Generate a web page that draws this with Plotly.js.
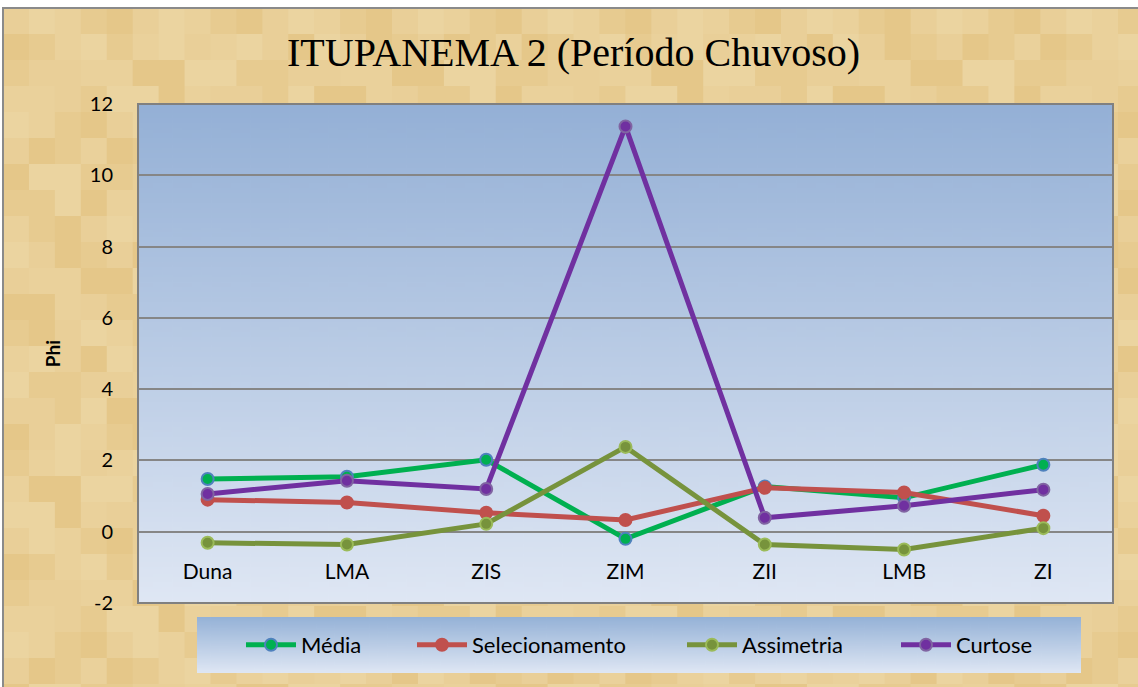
<!DOCTYPE html>
<html>
<head>
<meta charset="utf-8">
<script src="https://cdn.plot.ly/plotly-3.0.1.min.js"></script>
<style>html,body{margin:0;padding:0;background:#fff;}#chart{width:1138px;height:687px;}</style>
</head>
<body>
<div id="chart"></div>
<script>
const categories = ['Duna', 'LMA', 'ZIS', 'ZIM', 'ZII', 'LMB', 'ZI'];
const media = [1.48, 1.54, 2.02, -0.2, 1.27, 0.95, 1.88];
const selecionamento = [0.9, 0.82, 0.53, 0.33, 1.23, 1.1, 0.45];
const assimetria = [-0.31, -0.36, 0.22, 2.38, -0.36, -0.5, 0.1];
const curtose = [1.06, 1.43, 1.2, 11.37, 0.39, 0.73, 1.18];
const yTicks = [-2, 0, 2, 4, 6, 8, 10, 12];

function gradient(w, h, top, bottom) {
  const c = document.createElement('canvas');
  c.width = w; c.height = h;
  const g = c.getContext('2d');
  const gr = g.createLinearGradient(0, 0, 0, h);
  gr.addColorStop(0, top); gr.addColorStop(1, bottom);
  g.fillStyle = gr; g.fillRect(0, 0, w, h);
  return c.toDataURL();
}
function parchment(w, h) {
  const c = document.createElement('canvas');
  c.width = w; c.height = h;
  const g = c.getContext('2d');
  const tones = ['#e9cf98', '#e7cb90', '#ebd4a0', '#e5c789', '#ead19b'];
  const bs = 26;
  for (let i = 0; i * bs < w; i++) {
    for (let j = 0; j * bs < h; j++) {
      g.fillStyle = tones[(i * 7 + j * 3 + (i * j) % 4) % tones.length];
      g.fillRect(i * bs, j * bs, bs, bs);
    }
  }
  return c.toDataURL();
}

const W = 1138, H = 687, L = 138, R = 1113, T = 104, B = 603;
const pw = R - L, ph = B - T;
const px = v => (v - L) / pw;
const py = v => (B - v) / ph;

function mk(name, y, color, edge, leg) {
  return {
    type: 'scatter', mode: 'lines+markers', name: name,
    x: categories, y: y,
    line: {color: color, width: 5},
    marker: {size: 12, color: color, line: {color: edge, width: 2}},
    legend: leg,
    hoverinfo: 'skip'
  };
}

const data = [
  mk('Média', media, '#00b050', '#4f81bd', 'legend'),
  mk('Selecionamento', selecionamento, '#c0504d', '#c0504d', 'legend2'),
  mk('Assimetria', assimetria, '#77933c', '#9bbb59', 'legend3'),
  mk('Curtose', curtose, '#7030a0', '#8064a2', 'legend4')
];

const legFont = {family: 'Lato, Noto Sans, sans-serif', size: 22, color: '#000'};
function leg(symStart) {
  return {
    orientation: 'h',
    x: px(symStart - 6), xanchor: 'left',
    y: py(645), yanchor: 'middle',
    bgcolor: 'rgba(0,0,0,0)',
    itemwidth: 50,
    font: legFont
  };
}

const layout = {
  width: W, height: H,
  margin: {l: L, r: W - R, t: T, b: H - B},
  paper_bgcolor: '#ffffff',
  plot_bgcolor: 'rgba(0,0,0,0)',
  showlegend: true,
  title: {
    text: 'ITUPANEMA 2 (Período Chuvoso)',
    font: {family: 'Liberation Serif, serif', size: 40, color: '#000'},
    x: 0.504, xanchor: 'center', y: 1 - 52 / H, yanchor: 'middle', yref: 'container'
  },
  xaxis: {
    type: 'category',
    range: [-0.5, 6.5],
    anchor: 'free',
    position: py(532),
    showline: false, showgrid: false, zeroline: false,
    ticks: '',
    ticklabelstandoff: 25,
    tickfont: {family: 'Lato, Noto Sans, sans-serif', size: 21, color: '#000'}
  },
  yaxis: {
    range: [-2, 12],
    tickvals: yTicks,
    ticktext: yTicks.map(String),
    showgrid: true, gridcolor: '#868686', gridwidth: 2,
    zeroline: false, showline: false,
    ticks: '',
    ticklabelstandoff: 24,
    tickfont: {family: 'Lato, Noto Sans, sans-serif', size: 20, color: '#000'},
    title: {text: '<b>Phi</b>', font: {family: 'Lato, Noto Sans, sans-serif', size: 19, color: '#000'}, standoff: 24}
  },
  legend: leg(247),
  legend2: leg(418),
  legend3: leg(688),
  legend4: leg(902),
  images: [
    {source: parchment(W, H - 8), xref: 'paper', yref: 'paper', x: px(3), y: py(8), sizex: (W - 3) / pw, sizey: (H - 8) / ph, sizing: 'stretch', xanchor: 'left', yanchor: 'top', layer: 'below'},
    {source: gradient(100, 200, '#94b0d6', '#dfe7f4'), xref: 'paper', yref: 'paper', x: 0, y: 1, sizex: 1, sizey: 1, sizing: 'stretch', xanchor: 'left', yanchor: 'top', layer: 'below'},
    {source: gradient(100, 100, '#95b2d7', '#dfe7f4'), xref: 'paper', yref: 'paper', x: px(197), y: py(617), sizex: (1081 - 197) / pw, sizey: (673 - 617) / ph, sizing: 'stretch', xanchor: 'left', yanchor: 'top', layer: 'below'}
  ],
  shapes: [
    {type: 'rect', xref: 'paper', yref: 'paper', x0: 0, x1: 1, y0: 0, y1: 1, line: {color: '#808080', width: 2}, fillcolor: 'rgba(0,0,0,0)', layer: 'above'},
    {type: 'rect', xref: 'paper', yref: 'paper', x0: px(3), x1: px(W + 5), y0: py(H + 5), y1: py(8), line: {color: '#8a8a8a', width: 2}, fillcolor: 'rgba(0,0,0,0)', layer: 'below'}
  ]
};

Plotly.newPlot('chart', data, layout, {displayModeBar: false, staticPlot: true});
</script>
</body>
</html>
